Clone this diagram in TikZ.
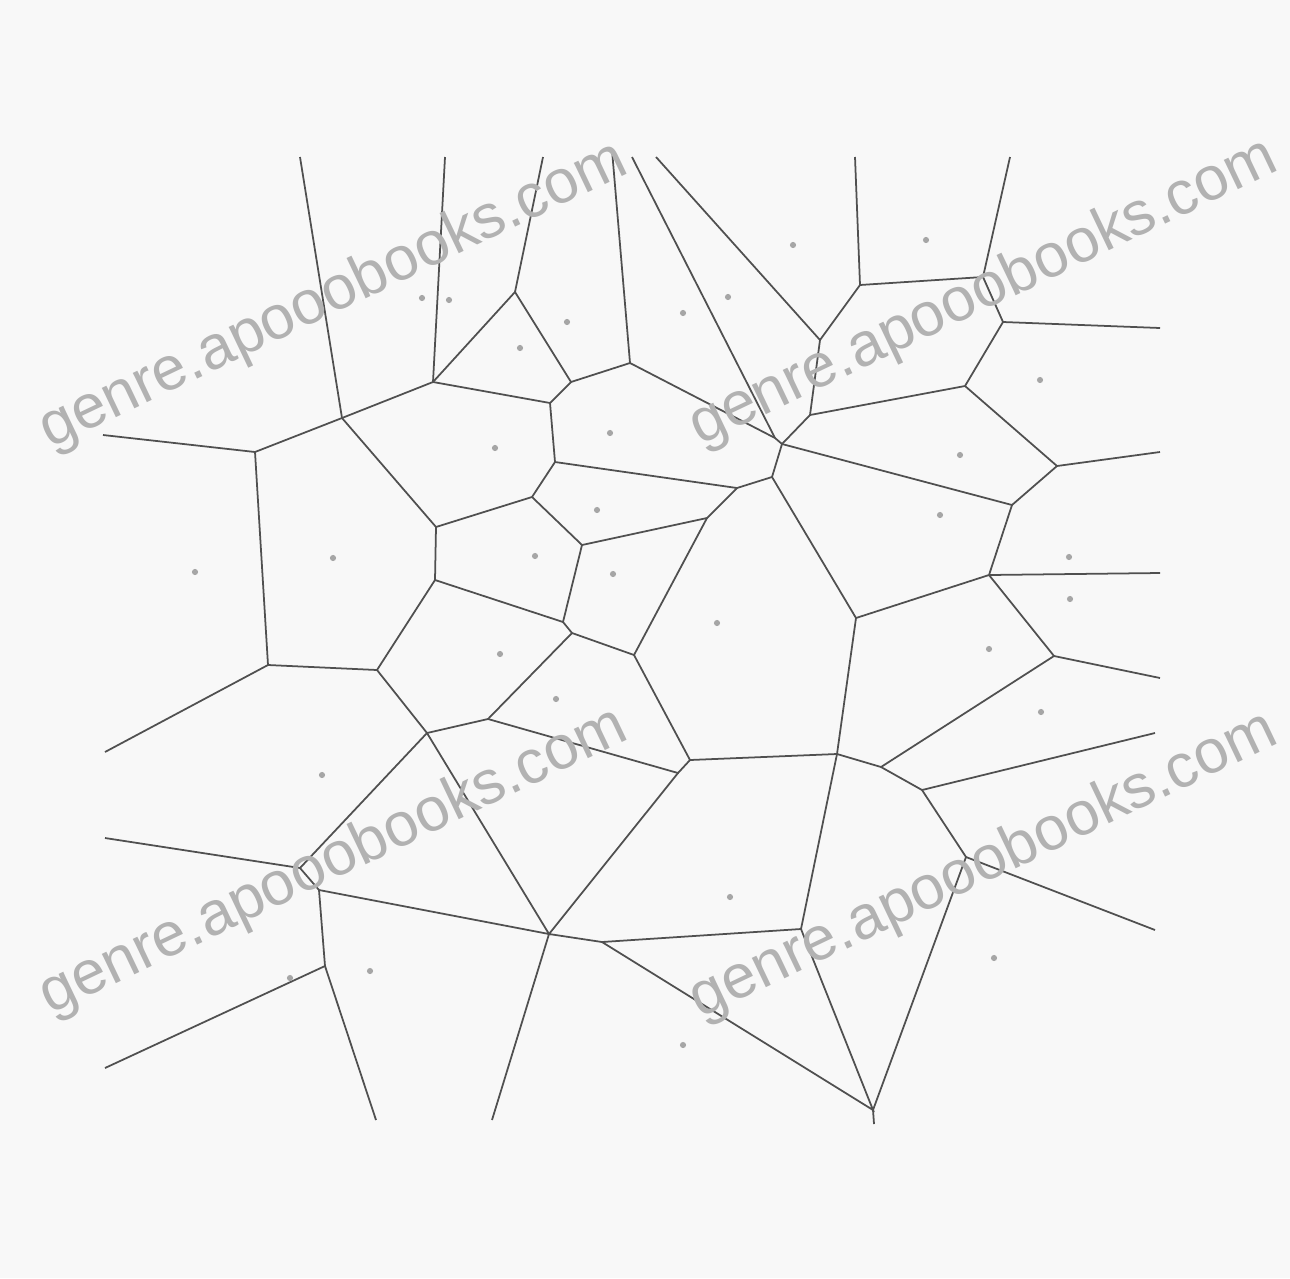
\documentclass[tikz,border=0pt]{standalone}
\usepackage{fontspec}
\setmainfont{Liberation Sans}
\definecolor{bgpaper}{HTML}{F8F8F8}
\definecolor{cellline}{HTML}{505050}
\tikzset{
  vedge/.style  = {-, line width=1pt, cellline},
  site/.style   = {circle, fill=black!35, inner sep=0pt, minimum size=3.5pt},
  wmtext/.style = {font=\fontsize{35}{35}\selectfont, text=black!30,
                   rotate=25.5, inner sep=0pt},
}

\begin{document}
\begin{tikzpicture}[x=0.02cm, y=-0.02cm]
    % --- paper ----------------------------------------------------------
    \fill[bgpaper] (0,0) rectangle (1290,1278);
    \useasboundingbox (0,0) rectangle (1290,1278);
    % --- free ends of the rays ------------------------------------------
    \coordinate (t1) at (300,157);   \coordinate (t2) at (445,157);
    \coordinate (t3) at (543,157);   \coordinate (t4) at (612,150);
    \coordinate (t5) at (632,157);   \coordinate (t6) at (656,157);
    \coordinate (t7) at (855,157);   \coordinate (t8) at (1010,157);
    \coordinate (l1) at (103,435);   \coordinate (l2) at (105,752);
    \coordinate (l3) at (105,838);   \coordinate (l4) at (105,1068);
    \coordinate (b1) at (376,1120);  \coordinate (b2) at (492,1120);
    \coordinate (b3) at (874,1124);
    \coordinate (e1) at (1160,328);  \coordinate (e2) at (1160,452);
    \coordinate (e3) at (1160,573);  \coordinate (e4) at (1160,678);
    \coordinate (e5) at (1155,733);  \coordinate (e6) at (1155,930);
    % --- vertices -------------------------------------------------------
    \coordinate (v1)  at (342,418);  \coordinate (v2)  at (255,452);
    \coordinate (v3)  at (433,382);  \coordinate (v4)  at (436,527);
    \coordinate (v5)  at (268,665);  \coordinate (v6)  at (377,670);
    \coordinate (v7)  at (435,580);  \coordinate (v8)  at (427,733);
    \coordinate (v9)  at (515,292);  \coordinate (v10) at (550,403);
    \coordinate (v11) at (571,382);  \coordinate (v12) at (630,363);
    \coordinate (v13) at (555,462);  \coordinate (v14) at (532,497);
    \coordinate (v15) at (737,488);  \coordinate (v16) at (582,545);
    \coordinate (v17) at (563,622);  \coordinate (v17b) at (572,633);
    \coordinate (v18a) at (775,438); \coordinate (v18) at (782,444);
    \coordinate (v19) at (820,340);  \coordinate (v20) at (810,415);
    \coordinate (v21) at (965,386);  \coordinate (v22) at (772,477);
    \coordinate (v23) at (707,518);  \coordinate (v24) at (634,655);
    \coordinate (v25) at (856,618);  \coordinate (v26) at (1012,505);
    \coordinate (v27) at (860,285);  \coordinate (v28) at (1003,322);
    \coordinate (v29) at (1057,466); \coordinate (v30) at (983,277);
    \coordinate (v31) at (989,575);  \coordinate (v32) at (1054,656);
    \coordinate (v33) at (881,767);  \coordinate (v34) at (837,754);
    \coordinate (v35) at (690,760);  \coordinate (v36) at (801,929);
    \coordinate (v37) at (922,790);  \coordinate (v38) at (966,857);
    \coordinate (v39) at (873,1110); \coordinate (v40) at (488,719);
    \coordinate (v41) at (678,773);  \coordinate (v42) at (549,934);
    \coordinate (v43) at (319,890);  \coordinate (v44) at (300,868);
    \coordinate (v45) at (325,966);  \coordinate (v46) at (602,942);
    % --- rays -----------------------------------------------------------
    \draw[vedge] (t1) -- (v1);   \draw[vedge] (t2) -- (v3);
    \draw[vedge] (t3) -- (v9);   \draw[vedge] (t4) -- (v12);
    \draw[vedge] (t5) -- (v18a); \draw[vedge] (t6) -- (v19);
    \draw[vedge] (t7) -- (v27);  \draw[vedge] (t8) -- (v30);
    \draw[vedge] (l1) -- (v2);   \draw[vedge] (l2) -- (v5);
    \draw[vedge] (l3) -- (v44);  \draw[vedge] (l4) -- (v45);
    \draw[vedge] (b1) -- (v45);  \draw[vedge] (b2) -- (v42);
    \draw[vedge] (b3) -- (v39);
    \draw[vedge] (e1) -- (v28);  \draw[vedge] (e2) -- (v29);
    \draw[vedge] (e3) -- (v31);  \draw[vedge] (e4) -- (v32);
    \draw[vedge] (e5) -- (v37);  \draw[vedge] (e6) -- (v38);
    % --- cell edges -----------------------------------------------------
    \draw[vedge] (v2) -- (v1) -- (v3);
    \draw[vedge] (v1) -- (v4) -- (v7);
    \draw[vedge] (v2) -- (v5) -- (v6) -- (v7);
    \draw[vedge] (v6) -- (v8) -- (v40);
    \draw[vedge] (v3) -- (v9) -- (v11) -- (v12);
    \draw[vedge] (v3) -- (v10) -- (v11);
    \draw[vedge] (v10) -- (v13) -- (v14) -- (v4);
    \draw[vedge] (v13) -- (v15) -- (v22);
    \draw[vedge] (v14) -- (v16) -- (v23) -- (v15);
    \draw[vedge] (v7) -- (v17) -- (v16);
    \draw[vedge] (v17) -- (v17b) -- (v24);
    \draw[vedge] (v17b) -- (v40);
    \draw[vedge] (v12) -- (v18a) -- (v18);
    \draw[vedge] (v18) -- (v20) -- (v19) -- (v27) -- (v30) -- (v28);
    \draw[vedge] (v20) -- (v21) -- (v28);
    \draw[vedge] (v21) -- (v29) -- (v26) -- (v18) -- (v22);
    \draw[vedge] (v26) -- (v31) -- (v25) -- (v22);
    \draw[vedge] (v31) -- (v32) -- (v33) -- (v34) -- (v25);
    \draw[vedge] (v23) -- (v24) -- (v35) -- (v34);
    \draw[vedge] (v33) -- (v37) -- (v38) -- (v39);
    \draw[vedge] (v34) -- (v36) -- (v39) -- (v46) -- (v36);
    \draw[vedge] (v35) -- (v41) -- (v40);
    \draw[vedge] (v41) -- (v42) -- (v46);
    \draw[vedge] (v8) -- (v42) -- (v43) -- (v44) -- (v8);
    \draw[vedge] (v43) -- (v45);
    % --- sites ----------------------------------------------------------
    \node[site] (s1)  at (195,572) {};  \node[site] (s2)  at (333,558) {};
    \node[site] (s3)  at (422,298) {};  \node[site] (s4)  at (449,300) {};
    \node[site] (s5)  at (520,348) {};  \node[site] (s6)  at (567,322) {};
    \node[site] (s7)  at (495,448) {};  \node[site] (s8)  at (610,433) {};
    \node[site] (s9)  at (597,510) {};  \node[site] (s10) at (535,556) {};
    \node[site] (s11) at (613,574) {};  \node[site] (s12) at (500,654) {};
    \node[site] (s13) at (556,699) {};  \node[site] (s14) at (717,623) {};
    \node[site] (s15) at (322,775) {};  \node[site] (s16) at (370,971) {};
    \node[site] (s17) at (290,978) {};  \node[site] (s18) at (730,897) {};
    \node[site] (s19) at (683,1045) {}; \node[site] (s20) at (994,958) {};
    \node[site] (s21) at (1041,712) {}; \node[site] (s22) at (989,649) {};
    \node[site] (s23) at (1070,599) {}; \node[site] (s24) at (1069,557) {};
    \node[site] (s25) at (940,515) {};  \node[site] (s26) at (960,455) {};
    \node[site] (s27) at (1040,380) {}; \node[site] (s28) at (926,240) {};
    \node[site] (s29) at (793,245) {};  \node[site] (s30) at (728,297) {};
    \node[site] (s31) at (683,313) {};
    % --- watermark ------------------------------------------------------
    \node[wmtext] (wm1) at (334,296) {genre.apooobooks.com};
    \node[wmtext] (wm2) at (984,293) {genre.apooobooks.com};
    \node[wmtext] (wm3) at (334,862) {genre.apooobooks.com};
    \node[wmtext] (wm4) at (984,866) {genre.apooobooks.com};
\end{tikzpicture}
\end{document}
